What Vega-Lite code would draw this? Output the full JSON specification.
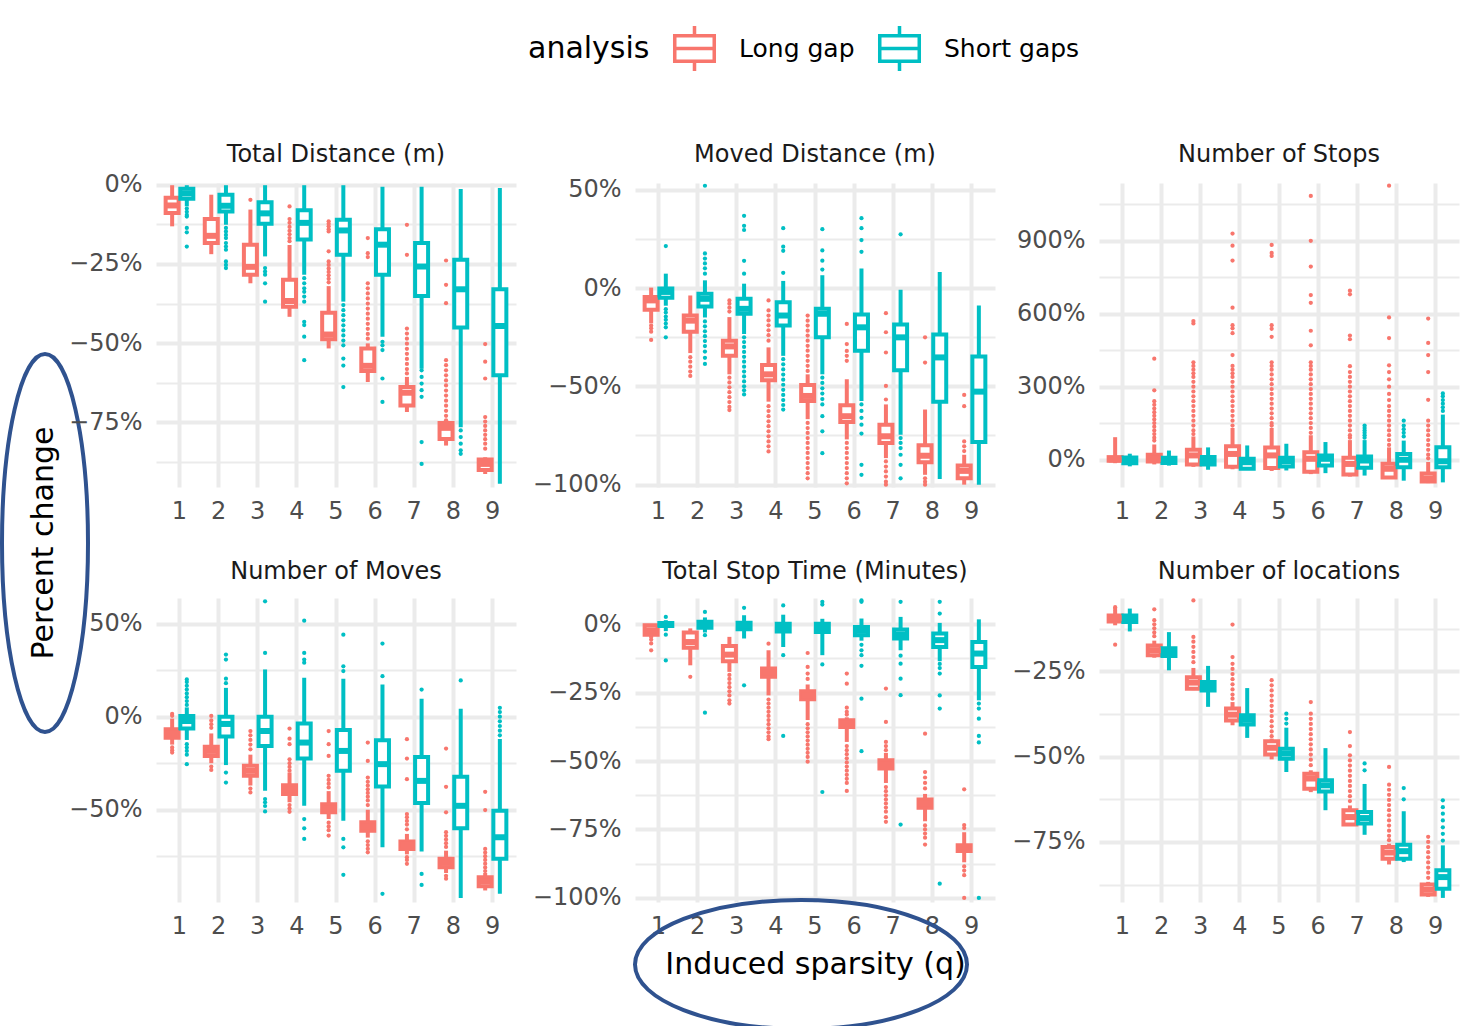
{
"$schema": "https://vega.github.io/schema/vega-lite/v6.json",
"background": "white",
"padding": {"left": 0, "top": 26, "right": 5, "bottom": 0},
"config": {
  "font": "DejaVu Sans",
  "view": {"stroke": null},
  "axis": {"labelFont": "DejaVu Sans", "labelFontSize": 24, "labelColor": "#4D4D4D", "ticks": false, "domain": false, "gridColor": "#EBEBEB", "titleFont": "DejaVu Sans", "titleFontSize": 30, "titleFontWeight": "normal", "titleColor": "black"},
  "title": {"font": "DejaVu Sans", "fontSize": 24, "fontWeight": "normal", "color": "#1A1A1A", "frame": "group", "anchor": "middle", "offset": 14}
},
"datasets": {
"boxes": [
{"p":1,"q":1,"a":"Long gap","lo":-13.1,"q1":-8.9,"med":-6.5,"q3":-4.1,"hi":-0.1,"out":[]},
{"p":1,"q":2,"a":"Long gap","lo":-21.9,"q1":-18.4,"med":-16.1,"q3":-10.8,"hi":-3.1,"out":[]},
{"p":1,"q":3,"a":"Long gap","lo":-31.1,"q1":-28.4,"med":-25.9,"q3":-18.9,"hi":-7.8,"out":[-4.7]},
{"p":1,"q":4,"a":"Long gap","lo":-41.7,"q1":-38.5,"med":-36.7,"q3":-30,"hi":-19,"out":[-6.8,-10.8,-12,-13.3,-14.5,-15.6,-16.8,-17.8]},
{"p":1,"q":5,"a":"Long gap","lo":-51.7,"q1":-48.8,"med":-47.3,"q3":-40.4,"hi":-32,"out":[-11.5,-12.3,-13.1,-14,-14.7,-21,-24.2,-25.3,-26.4,-27.5,-28.6,-29.7,-30.8]},
{"p":1,"q":6,"a":"Long gap","lo":-62.3,"q1":-58.8,"med":-57.2,"q3":-51.7,"hi":-50.1,"out":[-16.8,-21.6,-22.8,-31.1,-32.7,-34.3,-35.9,-37.5,-39.1,-40.7,-42.3,-43.9,-45.5,-47.1,-48.6]},
{"p":1,"q":7,"a":"Long gap","lo":-71.8,"q1":-69.7,"med":-65.7,"q3":-63.9,"hi":-60.7,"out":[-12.6,-22.1,-45.4,-47,-48.6,-50.2,-51.8,-53.4,-55,-56.6,-58.2,-59.6]},
{"p":1,"q":8,"a":"Long gap","lo":-82.4,"q1":-80.3,"med":-76.8,"q3":-75.3,"hi":-75,"out":[-23.9,-31.6,-37.4,-55.4,-57,-58.6,-60.2,-61.8,-63.4,-65,-66.6,-68.2,-69.8,-71.4,-73,-74.4]},
{"p":1,"q":9,"a":"Long gap","lo":-91.4,"q1":-90.1,"med":-88.2,"q3":-86.8,"hi":-86.1,"out":[-50.3,-55.9,-61.2,-73.4,-74.8,-76.2,-77.6,-79,-80.4,-81.8,-83.4]},
{"p":1,"q":1,"a":"Short gaps","lo":-6.8,"q1":-4.4,"med":-2.7,"q3":-1.2,"hi":-0.1,"out":[-7.5,-8.5,-9.5,-10,-13.6,-15,-19.5]},
{"p":1,"q":2,"a":"Short gaps","lo":-12.6,"q1":-8.4,"med":-6.6,"q3":-3.1,"hi":-0.1,"out":[-13.6,-14.7,-15.8,-16.8,-18.4,-19.5,-20.5,-24.2,-25.3,-26.3]},
{"p":1,"q":3,"a":"Short gaps","lo":-22.6,"q1":-12.3,"med":-9,"q3":-5.5,"hi":-0.1,"out":[-26.3,-27.4,-28.4,-31.1,-36.9]},
{"p":1,"q":4,"a":"Short gaps","lo":-28.4,"q1":-17.3,"med":-12,"q3":-8,"hi":-0.1,"out":[-29.5,-31.1,-32.7,-33.8,-35.3,-36.9,-43.3,-44.3,-48,-55.4]},
{"p":1,"q":5,"a":"Short gaps","lo":-36.9,"q1":-22.1,"med":-14.4,"q3":-11,"hi":-0.1,"out":[-38,-39.6,-41.2,-42.8,-44.4,-46,-47.6,-49.2,-50.7,-54.9,-57.1,-63.9]},
{"p":1,"q":6,"a":"Short gaps","lo":-48,"q1":-28.4,"med":-18.9,"q3":-14,"hi":-0.6,"out":[-49.6,-50.7,-52.2,-61.2,-68.6]},
{"p":1,"q":7,"a":"Short gaps","lo":-58.1,"q1":-35.1,"med":-25.8,"q3":-18.4,"hi":-0.6,"out":[-58.6,-60.7,-62.8,-64.9,-67,-81.3,-88.2]},
{"p":1,"q":8,"a":"Short gaps","lo":-76.6,"q1":-45.1,"med":-33,"q3":-23.7,"hi":-1.3,"out":[-77.6,-79.7,-81.8,-83.9,-85]},
{"p":1,"q":9,"a":"Short gaps","lo":-94.5,"q1":-60.2,"med":-44.6,"q3":-33,"hi":-1,"out":[]},
{"p":2,"q":1,"a":"Long gap","lo":-18,"q1":-11.1,"med":-6.3,"q3":-4.6,"hi":0.2,"out":[-19.1,-20.5,-22.2,-26.4]},
{"p":2,"q":2,"a":"Long gap","lo":-33.1,"q1":-22.2,"med":-16.6,"q3":-14,"hi":-3.8,"out":[-35.2,-37.5,-40,-42.5,-44.7]},
{"p":2,"q":3,"a":"Long gap","lo":-43.9,"q1":-34.5,"med":-29.7,"q3":-26.8,"hi":-14.8,"out":[-6.3,-8,-10,-12,-45.6,-48,-50.5,-53,-55.5,-58,-60.5,-62.1]},
{"p":2,"q":4,"a":"Long gap","lo":-57.8,"q1":-46.9,"med":-43.9,"q3":-39.1,"hi":-30.2,"out":[-6.3,-11.4,-14,-16.5,-19,-21.5,-24,-26.8,-60.1,-62.6,-65.2,-67.8,-70.3,-72.9,-75.4,-78,-80.5,-83.1]},
{"p":2,"q":5,"a":"Long gap","lo":-66.7,"q1":-57.5,"med":-54.9,"q3":-49.3,"hi":-43.9,"out":[-14,-16.6,-19.1,-21.7,-24.2,-26.8,-29.4,-31.9,-34.5,-37,-39.6,-42.2,-68.6,-71.2,-73.7,-76.3,-78.8,-81.4,-83.9,-86.5,-89,-91.6,-94.2,-96.8]},
{"p":2,"q":6,"a":"Long gap","lo":-77,"q1":-68.1,"med":-65.2,"q3":-59.6,"hi":-46.4,"out":[-18.3,-28.5,-32,-34.5,-37,-78.8,-81.4,-83.9,-86.5,-89,-91.6,-94.2,-96.8,-99.3]},
{"p":2,"q":7,"a":"Long gap","lo":-86.5,"q1":-78.8,"med":-75.4,"q3":-69.5,"hi":-59.2,"out":[-12.8,-22.5,-32.8,-49.8,-56.7,-88.2,-90.8,-93.3,-95.9,-98.5,-100]},
{"p":2,"q":8,"a":"Long gap","lo":-95,"q1":-88.6,"med":-85.3,"q3":-80,"hi":-61.8,"out":[-25.1,-37.9,-96.8,-98.5,-100]},
{"p":2,"q":9,"a":"Long gap","lo":-100,"q1":-96.8,"med":-93,"q3":-90.3,"hi":-84.8,"out":[-54.4,-60.1,-78,-80.5,-82.9]},
{"p":2,"q":1,"a":"Short gaps","lo":-9,"q1":-4.9,"med":-2,"q3":-0.3,"hi":7.3,"out":[21.3,-10.8,-12.5,-14.5,-16.2,-18.1,-20,-25.1]},
{"p":2,"q":2,"a":"Short gaps","lo":-15,"q1":-9.4,"med":-5.5,"q3":-2.9,"hi":3.9,"out":[52,17.6,15,12.5,10,7.3,-17,-19.5,-22,-24.5,-27,-29.5,-32.3,-35.5,-38.6]},
{"p":2,"q":3,"a":"Short gaps","lo":-23.4,"q1":-13.1,"med":-10.6,"q3":-5.5,"hi":2.2,"out":[36.7,31.6,29.5,13.8,7.3,-25.1,-27.5,-30,-32.5,-35,-37.5,-40,-42.5,-45,-47.5,-50,-52,-54.1]},
{"p":2,"q":4,"a":"Short gaps","lo":-34.5,"q1":-19.1,"med":-14,"q3":-7.2,"hi":3.6,"out":[30.4,21,18.9,7.7,-36.2,-38.8,-41.4,-44,-46.6,-49.2,-51.8,-54.4,-57,-59.5,-61.8]},
{"p":2,"q":5,"a":"Short gaps","lo":-43.9,"q1":-25.1,"med":-13.1,"q3":-10.6,"hi":6.5,"out":[29.9,19.1,13.9,9.4,-45.6,-48.3,-51,-53.7,-56.5,-59.2,-65.2,-72.9,-84]},
{"p":2,"q":6,"a":"Short gaps","lo":-57.5,"q1":-31.9,"med":-20,"q3":-13.5,"hi":9.9,"out":[35.5,30.4,24.4,18.4,-59.2,-62.5,-66,-69.5,-74,-89.9,-95]},
{"p":2,"q":7,"a":"Short gaps","lo":-74.6,"q1":-41.8,"med":-25.1,"q3":-18.6,"hi":-0.9,"out":[27.3,-76.3,-78.8,-81.4,-84.8,-89.9,-96.8]},
{"p":2,"q":8,"a":"Short gaps","lo":-97.1,"q1":-57.8,"med":-35.3,"q3":-23.7,"hi":8.2,"out":[]},
{"p":2,"q":9,"a":"Short gaps","lo":-100,"q1":-78.3,"med":-52.7,"q3":-34.8,"hi":-8.9,"out":[]},
{"p":3,"q":1,"a":"Long gap","lo":-15,"q1":-5,"med":0,"q3":10,"hi":92,"out":[]},
{"p":3,"q":2,"a":"Long gap","lo":-20,"q1":-8,"med":3,"q3":20,"hi":62,"out":[415,285,240,225,210,195,180,165,150,135,120,105,90,78]},
{"p":3,"q":3,"a":"Long gap","lo":-30,"q1":-20,"med":17,"q3":40,"hi":95,"out":[570,560,400,385,370,355,340,320,300,280,260,240,220,200,180,160,140,120,105]},
{"p":3,"q":4,"a":"Long gap","lo":-40,"q1":-30,"med":23,"q3":55,"hi":130,"out":[930,880,819,625,553,540,520,430,385,370,355,340,320,300,280,260,240,220,200,180,160,140]},
{"p":3,"q":5,"a":"Long gap","lo":-47,"q1":-35,"med":17,"q3":50,"hi":130,"out":[883,850,838,553,538,505,400,385,370,350,330,310,290,270,250,230,210,190,170,150,140]},
{"p":3,"q":6,"a":"Long gap","lo":-60,"q1":-50,"med":3,"q3":30,"hi":100,"out":[1085,900,794,677,645,530,470,400,385,370,350,330,310,290,270,250,230,210,190,170,150,130,110]},
{"p":3,"q":7,"a":"Long gap","lo":-70,"q1":-62,"med":-18,"q3":7,"hi":80,"out":[695,680,510,495,384,360,340,320,300,280,260,240,220,200,180,160,140,120,100,90]},
{"p":3,"q":8,"a":"Long gap","lo":-80,"q1":-74,"med":-38,"q3":-17,"hi":50,"out":[1127,585,500,388,360,330,300,270,245,220,200,180,160,140,120,100,80,60]},
{"p":3,"q":9,"a":"Long gap","lo":-97,"q1":-90,"med":-78,"q3":-57,"hi":-10,"out":[580,480,430,360,246,160,140,120,100,80,60,40,20,5]},
{"p":3,"q":1,"a":"Short gaps","lo":-28,"q1":-15,"med":-1,"q3":8,"hi":24,"out":[]},
{"p":3,"q":2,"a":"Short gaps","lo":-25,"q1":-14,"med":-1,"q3":7,"hi":37,"out":[]},
{"p":3,"q":3,"a":"Short gaps","lo":-42,"q1":-20,"med":-4,"q3":10,"hi":50,"out":[]},
{"p":3,"q":4,"a":"Short gaps","lo":-42,"q1":-38,"med":-11,"q3":3,"hi":58,"out":[]},
{"p":3,"q":5,"a":"Short gaps","lo":-45,"q1":-29,"med":-7,"q3":7,"hi":65,"out":[]},
{"p":3,"q":6,"a":"Short gaps","lo":-56,"q1":-25,"med":3,"q3":17,"hi":72,"out":[]},
{"p":3,"q":7,"a":"Short gaps","lo":-66,"q1":-34,"med":-4,"q3":12,"hi":80,"out":[90,100,110,120,130,140]},
{"p":3,"q":8,"a":"Short gaps","lo":-87,"q1":-32,"med":-1,"q3":23,"hi":78,"out":[95,110,125,140,160]},
{"p":3,"q":9,"a":"Short gaps","lo":-94,"q1":-32,"med":-7,"q3":51,"hi":185,"out":[200,215,230,245,260,272]},
{"p":4,"q":1,"a":"Long gap","lo":-15,"q1":-11.3,"med":-8.9,"q3":-6.8,"hi":-1,"out":[1.5,0.5,-16.5,-18,-19.3]},
{"p":4,"q":2,"a":"Long gap","lo":-25,"q1":-21.1,"med":-18.4,"q3":-16.1,"hi":-9,"out":[0.4,-2,-4,-6,-26.8,-28.6]},
{"p":4,"q":3,"a":"Long gap","lo":-37,"q1":-31.8,"med":-29.1,"q3":-26.4,"hi":-20.4,"out":[-7.7,-10,-12.5,-15,-17.5,-38.6,-40.7]},
{"p":4,"q":4,"a":"Long gap","lo":-46,"q1":-41.6,"med":-38.9,"q3":-36.8,"hi":-30,"out":[-6.4,-11.8,-14.8,-22.9,-25,-27,-29,-47.5,-49.3,-51.1]},
{"p":4,"q":5,"a":"Long gap","lo":-55,"q1":-51.4,"med":-49.3,"q3":-47,"hi":-40,"out":[-7.7,-14.8,-21.1,-31.8,-34,-36,-38,-57,-59,-61,-63.9]},
{"p":4,"q":6,"a":"Long gap","lo":-65,"q1":-61.3,"med":-58.9,"q3":-56.8,"hi":-50,"out":[-13.9,-23.8,-32.7,-35,-37,-39,-41,-43,-45,-47.5,-67,-69,-71,-72.9]},
{"p":4,"q":7,"a":"Long gap","lo":-74,"q1":-71.1,"med":-68.9,"q3":-67.1,"hi":-63,"out":[-12.1,-22.5,-33.6,-52.3,-54,-56,-58,-60.5,-75.5,-77,-79.1]},
{"p":4,"q":8,"a":"Long gap","lo":-84,"q1":-80.9,"med":-78.6,"q3":-76.4,"hi":-72,"out":[-17.1,-37.7,-51.4,-62.1,-64,-66,-68,-70,-85.5,-87.1]},
{"p":4,"q":9,"a":"Long gap","lo":-93.4,"q1":-91.1,"med":-88.6,"q3":-86.3,"hi":-84,"out":[-40.4,-50.2,-71.1,-73,-75,-77,-79,-81,-83]},
{"p":4,"q":1,"a":"Short gaps","lo":-12.5,"q1":-6.4,"med":-2.3,"q3":0.4,"hi":5,"out":[6.3,8.4,10.5,12.5,14.6,16.6,18.6,20,-14.8,-16.6,-18.4,-20.4,-25.5]},
{"p":4,"q":2,"a":"Short gaps","lo":-26,"q1":-10.7,"med":-3.9,"q3":0,"hi":15.5,"out":[33.4,30.7,20.4,18,-30,-35.4]},
{"p":4,"q":3,"a":"Short gaps","lo":-39.8,"q1":-15.7,"med":-7.7,"q3":0,"hi":25.4,"out":[62,34.3,-44.3,-46,-48,-50.9]},
{"p":4,"q":4,"a":"Short gaps","lo":-47.9,"q1":-22.5,"med":-13.9,"q3":-3.6,"hi":20.9,"out":[51.6,34.3,30.7,29,-55,-60,-65.7]},
{"p":4,"q":5,"a":"Short gaps","lo":-55.9,"q1":-29.1,"med":-18.4,"q3":-7.1,"hi":20.4,"out":[44.1,27.1,24.5,-65.7,-70.2,-85]},
{"p":4,"q":6,"a":"Short gaps","lo":-70.2,"q1":-37.5,"med":-25.5,"q3":-12.7,"hi":17.3,"out":[39.3,21.8,-95.2]},
{"p":4,"q":7,"a":"Short gaps","lo":-72.5,"q1":-46.4,"med":-34.5,"q3":-21.6,"hi":9.6,"out":[14.6,-84.5,-90.4]},
{"p":4,"q":8,"a":"Short gaps","lo":-97.5,"q1":-60,"med":-47.9,"q3":-32.3,"hi":4.3,"out":[19.5]},
{"p":4,"q":9,"a":"Short gaps","lo":-95.2,"q1":-76.4,"med":-64.8,"q3":-50.5,"hi":-12,"out":[4.8,2.5,0,-2.5,-5,-7.5,-10]},
{"p":5,"q":1,"a":"Long gap","lo":-5,"q1":-3.8,"med":-2.2,"q3":-0.4,"hi":0,"out":[-5.6,-7,-9.5]},
{"p":5,"q":2,"a":"Long gap","lo":-15,"q1":-8.6,"med":-6.5,"q3":-3,"hi":-1.5,"out":[-19.2]},
{"p":5,"q":3,"a":"Long gap","lo":-17.4,"q1":-13.5,"med":-11.1,"q3":-7.9,"hi":-4.6,"out":[-18.5,-20,-21.5,-23,-24.5,-26,-27.8,-29]},
{"p":5,"q":4,"a":"Long gap","lo":-26,"q1":-19.2,"med":-17.7,"q3":-16.2,"hi":-9.5,"out":[-7.1,-27.5,-29,-30.5,-32,-33.5,-35,-36.5,-38,-39.5,-41,-42]},
{"p":5,"q":5,"a":"Long gap","lo":-35,"q1":-27.4,"med":-25.9,"q3":-24.5,"hi":-22,"out":[-10.5,-15.6,-18,-20,-36.5,-38,-39.5,-41,-42.5,-44,-45.5,-47,-48.5,-50.2]},
{"p":5,"q":6,"a":"Long gap","lo":-43,"q1":-37.5,"med":-36.3,"q3":-35.1,"hi":-34,"out":[-18,-21.7,-30.5,-32,-33,-44.5,-46,-47.5,-49,-50.5,-52,-53.5,-55,-56.5,-58,-60.9]},
{"p":5,"q":7,"a":"Long gap","lo":-58,"q1":-52.7,"med":-51.3,"q3":-49.7,"hi":-47,"out":[-23.5,-35.7,-43,-44.5,-46,-59.5,-61,-62.5,-64,-65.5,-67,-68.5,-70.5,-72.2]},
{"p":5,"q":8,"a":"Long gap","lo":-72,"q1":-67.1,"med":-65.5,"q3":-64,"hi":-62,"out":[-40,-54,-56,-58,-60,-73.5,-75,-76.5,-78,-80.5]},
{"p":5,"q":9,"a":"Long gap","lo":-87,"q1":-82.9,"med":-81.7,"q3":-80.8,"hi":-76,"out":[-60.3,-73.4,-74.5,-88.5,-90,-91.7,-100]},
{"p":5,"q":1,"a":"Short gaps","lo":-2.5,"q1":-0.6,"med":0,"q3":0.5,"hi":1.5,"out":[2.7,-3.8,-13.2]},
{"p":5,"q":2,"a":"Short gaps","lo":-3,"q1":-1.3,"med":-0.1,"q3":0.9,"hi":2.5,"out":[4.5,-4,-32.3]},
{"p":5,"q":3,"a":"Short gaps","lo":-5.2,"q1":-1.8,"med":-0.6,"q3":0.6,"hi":3.3,"out":[6,-22.3]},
{"p":5,"q":4,"a":"Short gaps","lo":-8.3,"q1":-2.6,"med":-1,"q3":0.2,"hi":3.5,"out":[6.9,-11.3,-40.8]},
{"p":5,"q":5,"a":"Short gaps","lo":-11.3,"q1":-2.8,"med":-1.1,"q3":0.2,"hi":2,"out":[7.2,8.2,-14.7,-61.3]},
{"p":5,"q":6,"a":"Short gaps","lo":-6,"q1":-4,"med":-2.4,"q3":-1,"hi":2.1,"out":[8.7,8.2,-7.5,-9.5,-11.3,-15.2,-27.2,-46.4]},
{"p":5,"q":7,"a":"Short gaps","lo":-9.5,"q1":-5.2,"med":-3.7,"q3":-1.9,"hi":2.7,"out":[8.2,-11.5,-14.4,-19.9,-25.9,-73.2]},
{"p":5,"q":8,"a":"Short gaps","lo":-13.5,"q1":-8.3,"med":-5.8,"q3":-3.4,"hi":0.5,"out":[8.2,3.9,-14.5,-16,-18,-26,-30.8,-94.8]},
{"p":5,"q":9,"a":"Short gaps","lo":-27.8,"q1":-15.6,"med":-10.7,"q3":-6.5,"hi":1.8,"out":[-29,-30.8,-34.5,-40.8,-43.2,-100]},
{"p":6,"q":1,"a":"Long gap","lo":-11.5,"q1":-10.4,"med":-9.4,"q3":-8.6,"hi":-7,"out":[-6.2,-6.7,-17.2]},
{"p":6,"q":2,"a":"Long gap","lo":-21,"q1":-20.3,"med":-18.8,"q3":-17.4,"hi":-16,"out":[-6.8,-10,-11.2,-12.4,-13.6,-14.7]},
{"p":6,"q":3,"a":"Long gap","lo":-30.5,"q1":-30.1,"med":-28.3,"q3":-26.7,"hi":-24,"out":[-4.2,-14.9,-16.3,-17.8,-19.3,-20.8,-22.3]},
{"p":6,"q":4,"a":"Long gap","lo":-40.8,"q1":-39.4,"med":-37.7,"q3":-35.9,"hi":-34,"out":[-11.3,-20.8,-22.8,-24.3,-25.8,-27.3,-28.8,-30.3,-31.8,-33]},
{"p":6,"q":5,"a":"Long gap","lo":-50.8,"q1":-49.4,"med":-47.4,"q3":-45.5,"hi":-44.7,"out":[-27.6,-29.1,-30.6,-32.1,-33.6,-35.1,-36.6,-38.1,-39.6,-41.1,-42.6,-44]},
{"p":6,"q":6,"a":"Long gap","lo":-60.4,"q1":-59.4,"med":-56.4,"q3":-55,"hi":-54,"out":[-34,-37.4,-38.9,-40.4,-41.9,-43.4,-44.9,-46.4,-47.9,-49.4,-50.9,-52.5]},
{"p":6,"q":7,"a":"Long gap","lo":-70.1,"q1":-69.9,"med":-67.7,"q3":-65.7,"hi":-64.3,"out":[-42.8,-46.9,-49.6,-51.1,-52.6,-54.1,-55.6,-57.1,-58.6,-60.1,-61.6,-63]},
{"p":6,"q":8,"a":"Long gap","lo":-81.6,"q1":-79.9,"med":-78.1,"q3":-76.5,"hi":-75.5,"out":[-53,-58.2,-59.7,-61.2,-62.7,-64.2,-65.7,-67.2,-68.7,-70.2,-71.7,-73.2,-74.5]},
{"p":6,"q":9,"a":"Long gap","lo":-91.1,"q1":-90.4,"med":-89,"q3":-87.5,"hi":-86.7,"out":[-73.5,-75,-76.5,-78,-79.5,-81,-82.5,-84,-85.5]},
{"p":6,"q":1,"a":"Short gaps","lo":-13.3,"q1":-10.5,"med":-9.6,"q3":-8.6,"hi":-6.6,"out":[]},
{"p":6,"q":2,"a":"Short gaps","lo":-24.7,"q1":-20.5,"med":-19.3,"q3":-18.2,"hi":-13.5,"out":[]},
{"p":6,"q":3,"a":"Short gaps","lo":-35.4,"q1":-30.6,"med":-29.3,"q3":-28.1,"hi":-23.4,"out":[]},
{"p":6,"q":4,"a":"Short gaps","lo":-44.5,"q1":-40.6,"med":-39.2,"q3":-37.9,"hi":-29.9,"out":[]},
{"p":6,"q":5,"a":"Short gaps","lo":-54.5,"q1":-50.6,"med":-49.1,"q3":-47.7,"hi":-41.5,"out":[-37.4,-38.9,-40.3]},
{"p":6,"q":6,"a":"Short gaps","lo":-65.7,"q1":-60.2,"med":-58.4,"q3":-56.9,"hi":-47.5,"out":[]},
{"p":6,"q":7,"a":"Short gaps","lo":-72.9,"q1":-69.6,"med":-68,"q3":-66.2,"hi":-58,"out":[-52,-54]},
{"p":6,"q":8,"a":"Short gaps","lo":-80.9,"q1":-79.9,"med":-77.7,"q3":-75.8,"hi":-66,"out":[-59.2,-62.5]},
{"p":6,"q":9,"a":"Short gaps","lo":-91.4,"q1":-88.7,"med":-85.3,"q3":-83.3,"hi":-76,"out":[-62.8,-64.8,-66.7,-68.7,-70.7,-72.6,-74.6]}
]
},
"spacing": -22,
"hconcat": [
{
  "width": 90, "height": 720,
  "data": {"values": [{"t": "Percent change"}]},
  "layer": [
    {"mark": {"type": "point", "shape": "M -0.2275 0 C -0.2275 -0.5523 -0.1256 -1 0 -1 C 0.1256 -1 0.2275 -0.5523 0.2275 0 C 0.2275 0.5523 0.1256 1 0 1 C -0.1256 1 -0.2275 0.5523 -0.2275 0 Z", "size": 142884, "filled": false, "stroke": "#2F528F", "strokeWidth": 4, "strokeJoin": "round", "opacity": 1}, "encoding": {}},
    {"mark": {"type": "text", "angle": 270, "fontSize": 30, "font": "DejaVu Sans", "color": "black", "align": "center", "baseline": "middle", "dy": -1}, "encoding": {"text": {"field": "t"}}}
  ]
},
{
  "data": {"name": "boxes"},
  "columns": 3,
  "align": "each",
  "spacing": {"row": 37, "column": 16},
  "concat": [
  {
    "title": {"text": "Total Distance (m)", "dy": 8},
    "width": 360, "height": 304,
    "transform": [{"filter": "datum.p == 1"}],
    "resolve": {"axis": {"y": "independent"}},
    "layer": [
      {"mark": {"type": "rule", "strokeWidth": 4},
       "encoding": {
         "x": {"field": "q", "type": "ordinal", "scale": {"paddingInner": 0.25, "paddingOuter": 0.225}, "axis": {"labelAngle": 0, "grid": true, "gridWidth": 4, "bandPosition": 0.5, "title": null, "labelPadding": 12}},
         "xOffset": {"field": "a", "type": "nominal", "scale": {"domain": ["Long gap", "Short gaps"]}},
         "y": {"field": "lo", "type": "quantitative", "scale": {"domain": [-95.5, 0.6], "nice": false, "zero": false}, "axis": {"values": [0, -25, -50, -75], "grid": true, "gridWidth": 4, "labelPadding": 14, "labelExpr": "format(datum.value, 'd') + '%'", "title": null}},
         "y2": {"field": "hi"},
         "stroke": {"field": "a", "type": "nominal", "title": "analysis", "scale": {"domain": ["Long gap", "Short gaps"], "range": ["#F8766D", "#00BFC4"]},
           "legend": {"orient": "none", "legendX": 528, "legendY": -157, "direction": "horizontal", "titleOrient": "left", "titleFontSize": 30, "titleFont": "DejaVu Sans", "titleFontWeight": "normal", "titleColor": "black", "titlePadding": 22, "labelFontSize": 25, "labelFont": "DejaVu Sans", "labelColor": "black", "labelOffset": 22, "columnPadding": 22, "padding": 0,
             "symbolType": "M -0.956 -0.644 L 0.956 -0.644 L 0.956 0.644 L -0.956 0.644 Z M -0.8 -0.489 L -0.8 0.489 L 0.8 0.489 L 0.8 -0.489 Z M -0.8 -0.078 L 0.8 -0.078 L 0.8 0.078 L -0.8 0.078 Z M -0.078 -1 L 0.078 -1 L 0.078 -0.644 L -0.078 -0.644 Z M -0.078 0.644 L 0.078 0.644 L 0.078 1 L -0.078 1 Z",
             "symbolSize": 2025, "symbolStrokeWidth": 0}}
       }},
      {"mark": {"type": "bar", "fill": "white", "strokeWidth": 4, "width": 13},
       "encoding": {
         "x": {"field": "q", "type": "ordinal", "scale": {"paddingInner": 0.25, "paddingOuter": 0.225}, "axis": {"labelAngle": 0, "grid": true, "gridWidth": 4, "bandPosition": 0.5, "title": null, "labelPadding": 12}},
         "xOffset": {"field": "a", "type": "nominal", "scale": {"domain": ["Long gap", "Short gaps"]}},
         "y": {"field": "q1", "type": "quantitative", "scale": {"domain": [-95.5, 0.6], "nice": false, "zero": false}, "axis": null},
         "y2": {"field": "q3"},
         "stroke": {"field": "a", "type": "nominal", "scale": {"domain": ["Long gap", "Short gaps"], "range": ["#F8766D", "#00BFC4"]}, "legend": null}
       }},
      {"mark": {"type": "tick", "thickness": 6, "size": 13, "opacity": 1},
       "encoding": {
         "x": {"field": "q", "type": "ordinal", "scale": {"paddingInner": 0.25, "paddingOuter": 0.225}, "axis": {"labelAngle": 0, "grid": true, "gridWidth": 4, "bandPosition": 0.5, "title": null, "labelPadding": 12}},
         "xOffset": {"field": "a", "type": "nominal", "scale": {"domain": ["Long gap", "Short gaps"]}},
         "y": {"field": "med", "type": "quantitative", "scale": {"domain": [-95.5, 0.6], "nice": false, "zero": false}, "axis": {"values": [-12.5, -37.5, -62.5, -87.5], "grid": true, "gridWidth": 2, "labels": false, "orient": "left", "title": null}},
         "color": {"field": "a", "type": "nominal", "scale": {"domain": ["Long gap", "Short gaps"], "range": ["#F8766D", "#00BFC4"]}, "legend": null}
       }},
      {"transform": [{"flatten": ["out"]}],
       "mark": {"type": "circle", "size": 18, "opacity": 1},
       "encoding": {
         "x": {"field": "q", "type": "ordinal", "scale": {"paddingInner": 0.25, "paddingOuter": 0.225}, "axis": {"labelAngle": 0, "grid": true, "gridWidth": 4, "bandPosition": 0.5, "title": null, "labelPadding": 12}},
         "xOffset": {"field": "a", "type": "nominal", "scale": {"domain": ["Long gap", "Short gaps"]}},
         "y": {"field": "out", "type": "quantitative", "scale": {"domain": [-95.5, 0.6], "nice": false, "zero": false}, "axis": null},
         "color": {"field": "a", "type": "nominal", "scale": {"domain": ["Long gap", "Short gaps"], "range": ["#F8766D", "#00BFC4"]}, "legend": null}
       }}
    ]
  },
  {
    "title": {"text": "Moved Distance (m)", "dy": 3},
    "width": 360, "height": 304,
    "transform": [{"filter": "datum.p == 2"}],
    "resolve": {"axis": {"y": "independent"}},
    "layer": [
      {"mark": {"type": "rule", "strokeWidth": 4},
       "encoding": {
         "x": {"field": "q", "type": "ordinal", "scale": {"paddingInner": 0.25, "paddingOuter": 0.225}, "axis": {"labelAngle": 0, "grid": true, "gridWidth": 4, "bandPosition": 0.5, "title": null, "labelPadding": 12}},
         "xOffset": {"field": "a", "type": "nominal", "scale": {"domain": ["Long gap", "Short gaps"]}},
         "y": {"field": "lo", "type": "quantitative", "scale": {"domain": [-101.2, 53.4], "nice": false, "zero": false}, "axis": {"values": [50, 0, -50, -100], "grid": true, "gridWidth": 4, "labelPadding": 14, "labelExpr": "format(datum.value, 'd') + '%'", "title": null}},
         "y2": {"field": "hi"},
         "stroke": {"field": "a", "type": "nominal", "scale": {"domain": ["Long gap", "Short gaps"], "range": ["#F8766D", "#00BFC4"]}, "legend": null}
       }},
      {"mark": {"type": "bar", "fill": "white", "strokeWidth": 4, "width": 13},
       "encoding": {
         "x": {"field": "q", "type": "ordinal", "scale": {"paddingInner": 0.25, "paddingOuter": 0.225}, "axis": {"labelAngle": 0, "grid": true, "gridWidth": 4, "bandPosition": 0.5, "title": null, "labelPadding": 12}},
         "xOffset": {"field": "a", "type": "nominal", "scale": {"domain": ["Long gap", "Short gaps"]}},
         "y": {"field": "q1", "type": "quantitative", "scale": {"domain": [-101.2, 53.4], "nice": false, "zero": false}, "axis": null},
         "y2": {"field": "q3"},
         "stroke": {"field": "a", "type": "nominal", "scale": {"domain": ["Long gap", "Short gaps"], "range": ["#F8766D", "#00BFC4"]}, "legend": null}
       }},
      {"mark": {"type": "tick", "thickness": 6, "size": 13, "opacity": 1},
       "encoding": {
         "x": {"field": "q", "type": "ordinal", "scale": {"paddingInner": 0.25, "paddingOuter": 0.225}, "axis": {"labelAngle": 0, "grid": true, "gridWidth": 4, "bandPosition": 0.5, "title": null, "labelPadding": 12}},
         "xOffset": {"field": "a", "type": "nominal", "scale": {"domain": ["Long gap", "Short gaps"]}},
         "y": {"field": "med", "type": "quantitative", "scale": {"domain": [-101.2, 53.4], "nice": false, "zero": false}, "axis": {"values": [25, -25, -75], "grid": true, "gridWidth": 2, "labels": false, "orient": "left", "title": null}},
         "color": {"field": "a", "type": "nominal", "scale": {"domain": ["Long gap", "Short gaps"], "range": ["#F8766D", "#00BFC4"]}, "legend": null}
       }},
      {"transform": [{"flatten": ["out"]}],
       "mark": {"type": "circle", "size": 18, "opacity": 1},
       "encoding": {
         "x": {"field": "q", "type": "ordinal", "scale": {"paddingInner": 0.25, "paddingOuter": 0.225}, "axis": {"labelAngle": 0, "grid": true, "gridWidth": 4, "bandPosition": 0.5, "title": null, "labelPadding": 12}},
         "xOffset": {"field": "a", "type": "nominal", "scale": {"domain": ["Long gap", "Short gaps"]}},
         "y": {"field": "out", "type": "quantitative", "scale": {"domain": [-101.2, 53.4], "nice": false, "zero": false}, "axis": null},
         "color": {"field": "a", "type": "nominal", "scale": {"domain": ["Long gap", "Short gaps"], "range": ["#F8766D", "#00BFC4"]}, "legend": null}
       }}
    ]
  },
  {
    "title": {"text": "Number of Stops", "dy": -2},
    "width": 360, "height": 304,
    "transform": [{"filter": "datum.p == 3"}],
    "resolve": {"axis": {"y": "independent"}},
    "layer": [
      {"mark": {"type": "rule", "strokeWidth": 4},
       "encoding": {
         "x": {"field": "q", "type": "ordinal", "scale": {"paddingInner": 0.25, "paddingOuter": 0.225}, "axis": {"labelAngle": 0, "grid": true, "gridWidth": 4, "bandPosition": 0.5, "title": null, "labelPadding": 12}},
         "xOffset": {"field": "a", "type": "nominal", "scale": {"domain": ["Long gap", "Short gaps"]}},
         "y": {"field": "lo", "type": "quantitative", "scale": {"domain": [-113, 1138], "nice": false, "zero": false}, "axis": {"values": [0, 300, 600, 900], "grid": true, "gridWidth": 4, "labelPadding": 14, "labelExpr": "format(datum.value, 'd') + '%'", "title": null}},
         "y2": {"field": "hi"},
         "stroke": {"field": "a", "type": "nominal", "scale": {"domain": ["Long gap", "Short gaps"], "range": ["#F8766D", "#00BFC4"]}, "legend": null}
       }},
      {"mark": {"type": "bar", "fill": "white", "strokeWidth": 4, "width": 13},
       "encoding": {
         "x": {"field": "q", "type": "ordinal", "scale": {"paddingInner": 0.25, "paddingOuter": 0.225}, "axis": {"labelAngle": 0, "grid": true, "gridWidth": 4, "bandPosition": 0.5, "title": null, "labelPadding": 12}},
         "xOffset": {"field": "a", "type": "nominal", "scale": {"domain": ["Long gap", "Short gaps"]}},
         "y": {"field": "q1", "type": "quantitative", "scale": {"domain": [-113, 1138], "nice": false, "zero": false}, "axis": null},
         "y2": {"field": "q3"},
         "stroke": {"field": "a", "type": "nominal", "scale": {"domain": ["Long gap", "Short gaps"], "range": ["#F8766D", "#00BFC4"]}, "legend": null}
       }},
      {"mark": {"type": "tick", "thickness": 6, "size": 13, "opacity": 1},
       "encoding": {
         "x": {"field": "q", "type": "ordinal", "scale": {"paddingInner": 0.25, "paddingOuter": 0.225}, "axis": {"labelAngle": 0, "grid": true, "gridWidth": 4, "bandPosition": 0.5, "title": null, "labelPadding": 12}},
         "xOffset": {"field": "a", "type": "nominal", "scale": {"domain": ["Long gap", "Short gaps"]}},
         "y": {"field": "med", "type": "quantitative", "scale": {"domain": [-113, 1138], "nice": false, "zero": false}, "axis": {"values": [150, 450, 750, 1050], "grid": true, "gridWidth": 2, "labels": false, "orient": "left", "title": null}},
         "color": {"field": "a", "type": "nominal", "scale": {"domain": ["Long gap", "Short gaps"], "range": ["#F8766D", "#00BFC4"]}, "legend": null}
       }},
      {"transform": [{"flatten": ["out"]}],
       "mark": {"type": "circle", "size": 18, "opacity": 1},
       "encoding": {
         "x": {"field": "q", "type": "ordinal", "scale": {"paddingInner": 0.25, "paddingOuter": 0.225}, "axis": {"labelAngle": 0, "grid": true, "gridWidth": 4, "bandPosition": 0.5, "title": null, "labelPadding": 12}},
         "xOffset": {"field": "a", "type": "nominal", "scale": {"domain": ["Long gap", "Short gaps"]}},
         "y": {"field": "out", "type": "quantitative", "scale": {"domain": [-113, 1138], "nice": false, "zero": false}, "axis": null},
         "color": {"field": "a", "type": "nominal", "scale": {"domain": ["Long gap", "Short gaps"], "range": ["#F8766D", "#00BFC4"]}, "legend": null}
       }}
    ]
  },
  {
    "title": {"text": "Number of Moves"},
    "width": 360, "height": 304,
    "transform": [{"filter": "datum.p == 4"}],
    "resolve": {"axis": {"y": "independent"}},
    "layer": [
      {"mark": {"type": "rule", "strokeWidth": 4},
       "encoding": {
         "x": {"field": "q", "type": "ordinal", "scale": {"paddingInner": 0.25, "paddingOuter": 0.225}, "axis": {"labelAngle": 0, "grid": true, "gridWidth": 4, "bandPosition": 0.5, "title": null, "labelPadding": 12}},
         "xOffset": {"field": "a", "type": "nominal", "scale": {"domain": ["Long gap", "Short gaps"]}},
         "y": {"field": "lo", "type": "quantitative", "scale": {"domain": [-99.6, 63.8], "nice": false, "zero": false}, "axis": {"values": [50, 0, -50], "grid": true, "gridWidth": 4, "labelPadding": 14, "labelExpr": "format(datum.value, 'd') + '%'", "title": null}},
         "y2": {"field": "hi"},
         "stroke": {"field": "a", "type": "nominal", "scale": {"domain": ["Long gap", "Short gaps"], "range": ["#F8766D", "#00BFC4"]}, "legend": null}
       }},
      {"mark": {"type": "bar", "fill": "white", "strokeWidth": 4, "width": 13},
       "encoding": {
         "x": {"field": "q", "type": "ordinal", "scale": {"paddingInner": 0.25, "paddingOuter": 0.225}, "axis": {"labelAngle": 0, "grid": true, "gridWidth": 4, "bandPosition": 0.5, "title": null, "labelPadding": 12}},
         "xOffset": {"field": "a", "type": "nominal", "scale": {"domain": ["Long gap", "Short gaps"]}},
         "y": {"field": "q1", "type": "quantitative", "scale": {"domain": [-99.6, 63.8], "nice": false, "zero": false}, "axis": null},
         "y2": {"field": "q3"},
         "stroke": {"field": "a", "type": "nominal", "scale": {"domain": ["Long gap", "Short gaps"], "range": ["#F8766D", "#00BFC4"]}, "legend": null}
       }},
      {"mark": {"type": "tick", "thickness": 6, "size": 13, "opacity": 1},
       "encoding": {
         "x": {"field": "q", "type": "ordinal", "scale": {"paddingInner": 0.25, "paddingOuter": 0.225}, "axis": {"labelAngle": 0, "grid": true, "gridWidth": 4, "bandPosition": 0.5, "title": null, "labelPadding": 12}},
         "xOffset": {"field": "a", "type": "nominal", "scale": {"domain": ["Long gap", "Short gaps"]}},
         "y": {"field": "med", "type": "quantitative", "scale": {"domain": [-99.6, 63.8], "nice": false, "zero": false}, "axis": {"values": [25, -25, -75], "grid": true, "gridWidth": 2, "labels": false, "orient": "left", "title": null}},
         "color": {"field": "a", "type": "nominal", "scale": {"domain": ["Long gap", "Short gaps"], "range": ["#F8766D", "#00BFC4"]}, "legend": null}
       }},
      {"transform": [{"flatten": ["out"]}],
       "mark": {"type": "circle", "size": 18, "opacity": 1},
       "encoding": {
         "x": {"field": "q", "type": "ordinal", "scale": {"paddingInner": 0.25, "paddingOuter": 0.225}, "axis": {"labelAngle": 0, "grid": true, "gridWidth": 4, "bandPosition": 0.5, "title": null, "labelPadding": 12}},
         "xOffset": {"field": "a", "type": "nominal", "scale": {"domain": ["Long gap", "Short gaps"]}},
         "y": {"field": "out", "type": "quantitative", "scale": {"domain": [-99.6, 63.8], "nice": false, "zero": false}, "axis": null},
         "color": {"field": "a", "type": "nominal", "scale": {"domain": ["Long gap", "Short gaps"], "range": ["#F8766D", "#00BFC4"]}, "legend": null}
       }}
    ]
  },
  {
    "title": {"text": "Total Stop Time (Minutes)"},
    "width": 360, "height": 304,
    "transform": [{"filter": "datum.p == 5"}],
    "resolve": {"axis": {"y": "independent"}},
    "layer": [
      {"mark": {"type": "rule", "strokeWidth": 4},
       "encoding": {
         "x": {"field": "q", "type": "ordinal", "scale": {"paddingInner": 0.25, "paddingOuter": 0.225}, "axis": {"labelAngle": 0, "grid": true, "gridWidth": 4, "bandPosition": 0.5, "title": "Induced sparsity (q)", "titlePadding": 11, "labelPadding": 12}},
         "xOffset": {"field": "a", "type": "nominal", "scale": {"domain": ["Long gap", "Short gaps"]}},
         "y": {"field": "lo", "type": "quantitative", "scale": {"domain": [-101.5, 9.6], "nice": false, "zero": false}, "axis": {"values": [0, -25, -50, -75, -100], "grid": true, "gridWidth": 4, "labelPadding": 14, "labelExpr": "format(datum.value, 'd') + '%'", "title": null}},
         "y2": {"field": "hi"},
         "stroke": {"field": "a", "type": "nominal", "scale": {"domain": ["Long gap", "Short gaps"], "range": ["#F8766D", "#00BFC4"]}, "legend": null}
       }},
      {"mark": {"type": "bar", "fill": "white", "strokeWidth": 4, "width": 13},
       "encoding": {
         "x": {"field": "q", "type": "ordinal", "scale": {"paddingInner": 0.25, "paddingOuter": 0.225}, "axis": {"labelAngle": 0, "grid": true, "gridWidth": 4, "bandPosition": 0.5, "title": "Induced sparsity (q)", "titlePadding": 11, "labelPadding": 12}},
         "xOffset": {"field": "a", "type": "nominal", "scale": {"domain": ["Long gap", "Short gaps"]}},
         "y": {"field": "q1", "type": "quantitative", "scale": {"domain": [-101.5, 9.6], "nice": false, "zero": false}, "axis": null},
         "y2": {"field": "q3"},
         "stroke": {"field": "a", "type": "nominal", "scale": {"domain": ["Long gap", "Short gaps"], "range": ["#F8766D", "#00BFC4"]}, "legend": null}
       }},
      {"mark": {"type": "tick", "thickness": 6, "size": 13, "opacity": 1},
       "encoding": {
         "x": {"field": "q", "type": "ordinal", "scale": {"paddingInner": 0.25, "paddingOuter": 0.225}, "axis": {"labelAngle": 0, "grid": true, "gridWidth": 4, "bandPosition": 0.5, "title": "Induced sparsity (q)", "titlePadding": 11, "labelPadding": 12}},
         "xOffset": {"field": "a", "type": "nominal", "scale": {"domain": ["Long gap", "Short gaps"]}},
         "y": {"field": "med", "type": "quantitative", "scale": {"domain": [-101.5, 9.6], "nice": false, "zero": false}, "axis": {"values": [-12.5, -37.5, -62.5, -87.5], "grid": true, "gridWidth": 2, "labels": false, "orient": "left", "title": null}},
         "color": {"field": "a", "type": "nominal", "scale": {"domain": ["Long gap", "Short gaps"], "range": ["#F8766D", "#00BFC4"]}, "legend": null}
       }},
      {"transform": [{"flatten": ["out"]}],
       "mark": {"type": "circle", "size": 18, "opacity": 1},
       "encoding": {
         "x": {"field": "q", "type": "ordinal", "scale": {"paddingInner": 0.25, "paddingOuter": 0.225}, "axis": {"labelAngle": 0, "grid": true, "gridWidth": 4, "bandPosition": 0.5, "title": "Induced sparsity (q)", "titlePadding": 11, "labelPadding": 12}},
         "xOffset": {"field": "a", "type": "nominal", "scale": {"domain": ["Long gap", "Short gaps"]}},
         "y": {"field": "out", "type": "quantitative", "scale": {"domain": [-101.5, 9.6], "nice": false, "zero": false}, "axis": null},
         "color": {"field": "a", "type": "nominal", "scale": {"domain": ["Long gap", "Short gaps"], "range": ["#F8766D", "#00BFC4"]}, "legend": null}
       }},
      {"data": {"values": [{"k": 1}]},
       "mark": {"type": "point", "shape": "M -1.0843 1.2922 C -1.0843 1.0776 -0.6366 0.9036 -0.0843 0.9036 C 0.468 0.9036 0.9157 1.0776 0.9157 1.2922 C 0.9157 1.5068 0.468 1.6808 -0.0843 1.6808 C -0.6366 1.6808 -1.0843 1.5068 -1.0843 1.2922 Z", "size": 110224, "filled": false, "stroke": "#2F528F", "strokeWidth": 4, "strokeJoin": "round", "opacity": 1},
       "encoding": {}}
    ]
  },
  {
    "title": {"text": "Number of locations"},
    "width": 360, "height": 304,
    "transform": [{"filter": "datum.p == 6"}],
    "resolve": {"axis": {"y": "independent"}},
    "layer": [
      {"mark": {"type": "rule", "strokeWidth": 4},
       "encoding": {
         "x": {"field": "q", "type": "ordinal", "scale": {"paddingInner": 0.25, "paddingOuter": 0.225}, "axis": {"labelAngle": 0, "grid": true, "gridWidth": 4, "bandPosition": 0.5, "title": null, "labelPadding": 12}},
         "xOffset": {"field": "a", "type": "nominal", "scale": {"domain": ["Long gap", "Short gaps"]}},
         "y": {"field": "lo", "type": "quantitative", "scale": {"domain": [-92.6, -3.5], "nice": false, "zero": false}, "axis": {"values": [-25, -50, -75], "grid": true, "gridWidth": 4, "labelPadding": 14, "labelExpr": "format(datum.value, 'd') + '%'", "title": null}},
         "y2": {"field": "hi"},
         "stroke": {"field": "a", "type": "nominal", "scale": {"domain": ["Long gap", "Short gaps"], "range": ["#F8766D", "#00BFC4"]}, "legend": null}
       }},
      {"mark": {"type": "bar", "fill": "white", "strokeWidth": 4, "width": 13},
       "encoding": {
         "x": {"field": "q", "type": "ordinal", "scale": {"paddingInner": 0.25, "paddingOuter": 0.225}, "axis": {"labelAngle": 0, "grid": true, "gridWidth": 4, "bandPosition": 0.5, "title": null, "labelPadding": 12}},
         "xOffset": {"field": "a", "type": "nominal", "scale": {"domain": ["Long gap", "Short gaps"]}},
         "y": {"field": "q1", "type": "quantitative", "scale": {"domain": [-92.6, -3.5], "nice": false, "zero": false}, "axis": null},
         "y2": {"field": "q3"},
         "stroke": {"field": "a", "type": "nominal", "scale": {"domain": ["Long gap", "Short gaps"], "range": ["#F8766D", "#00BFC4"]}, "legend": null}
       }},
      {"mark": {"type": "tick", "thickness": 6, "size": 13, "opacity": 1},
       "encoding": {
         "x": {"field": "q", "type": "ordinal", "scale": {"paddingInner": 0.25, "paddingOuter": 0.225}, "axis": {"labelAngle": 0, "grid": true, "gridWidth": 4, "bandPosition": 0.5, "title": null, "labelPadding": 12}},
         "xOffset": {"field": "a", "type": "nominal", "scale": {"domain": ["Long gap", "Short gaps"]}},
         "y": {"field": "med", "type": "quantitative", "scale": {"domain": [-92.6, -3.5], "nice": false, "zero": false}, "axis": {"values": [-12.5, -37.5, -62.5, -87.5], "grid": true, "gridWidth": 2, "labels": false, "orient": "left", "title": null}},
         "color": {"field": "a", "type": "nominal", "scale": {"domain": ["Long gap", "Short gaps"], "range": ["#F8766D", "#00BFC4"]}, "legend": null}
       }},
      {"transform": [{"flatten": ["out"]}],
       "mark": {"type": "circle", "size": 18, "opacity": 1},
       "encoding": {
         "x": {"field": "q", "type": "ordinal", "scale": {"paddingInner": 0.25, "paddingOuter": 0.225}, "axis": {"labelAngle": 0, "grid": true, "gridWidth": 4, "bandPosition": 0.5, "title": null, "labelPadding": 12}},
         "xOffset": {"field": "a", "type": "nominal", "scale": {"domain": ["Long gap", "Short gaps"]}},
         "y": {"field": "out", "type": "quantitative", "scale": {"domain": [-92.6, -3.5], "nice": false, "zero": false}, "axis": null},
         "color": {"field": "a", "type": "nominal", "scale": {"domain": ["Long gap", "Short gaps"], "range": ["#F8766D", "#00BFC4"]}, "legend": null}
       }}
    ]
  }
  ]
}
]
}
